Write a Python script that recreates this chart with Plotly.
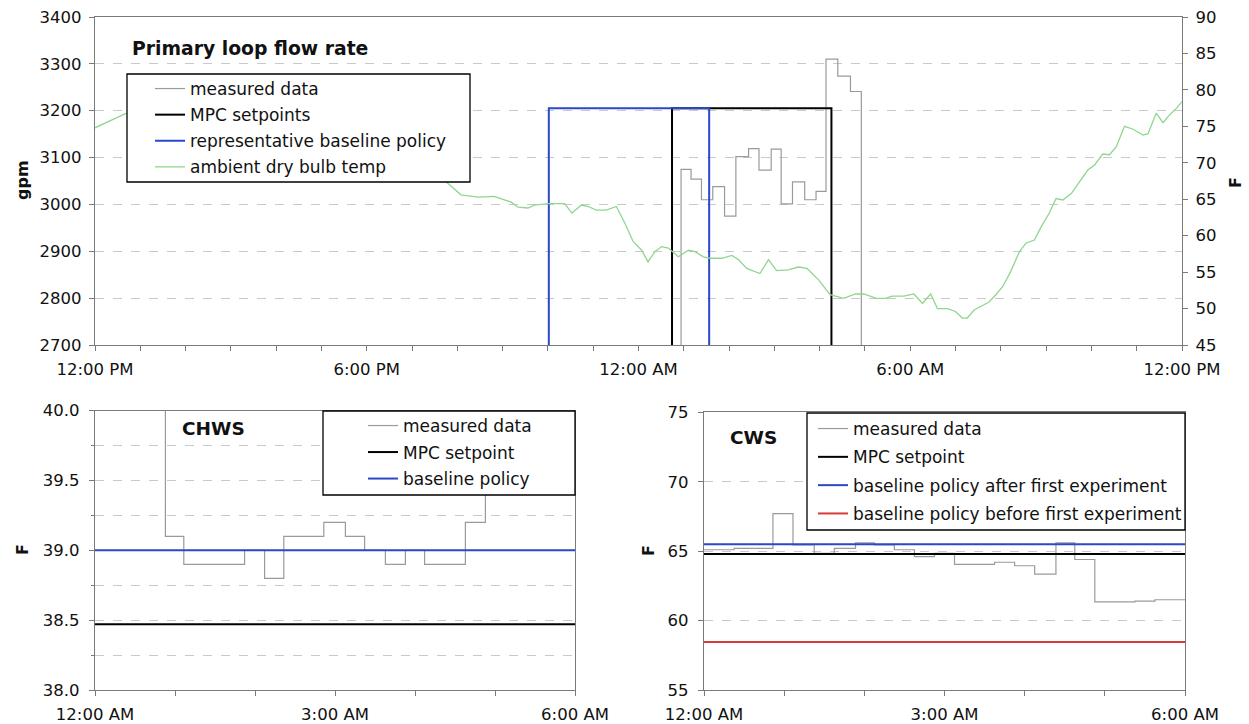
import plotly.graph_objects as go

W, H = 1249, 724

# ---------------- data ----------------
# Top chart: hours since 12:00 PM
top_tick_labels = ["12:00 PM", "6:00 PM", "12:00 AM", "6:00 AM", "12:00 PM"]

flow_hours = [12.5, 12.94, 13.16, 13.39, 13.64, 13.90, 14.15, 14.43, 14.66, 14.93,
              15.15, 15.40, 15.67, 15.92, 16.14, 16.40, 16.68, 16.92, 17.5]
flow_gpm = [0, 3075, 3054, 3010, 3038, 2975, 3102, 3119, 3073, 3118,
            3001, 3048, 3010, 3028, 3310, 3274, 3241, 0, 0]

mpc_hours = [12.0, 12.74, 16.26, 17.0]
mpc_gpm = [0, 3205, 0, 0]

base_hours = [9.5, 10.02, 13.56, 14.0]
base_gpm = [0, 3205, 0, 0]

temp_hours = [0.00, 0.66, 1.5, 2.5, 3.5, 4.5, 5.5, 6.5, 7.3, 7.79, 8.08, 8.46, 8.81,
              9.19, 9.34, 9.56, 9.70, 10.0, 10.37, 10.53, 10.74, 10.89, 11.07, 11.29,
              11.51, 11.70, 11.88, 12.07, 12.21, 12.36, 12.51, 12.66, 12.88, 13.10,
              13.25, 13.43, 13.58, 13.84, 14.06, 14.21, 14.39, 14.68, 14.87, 15.05,
              15.31, 15.53, 15.72, 15.98, 16.23, 16.53, 16.79, 16.97, 17.26, 17.45,
              17.60, 17.86, 18.08, 18.27, 18.45, 18.60, 18.82, 19.00, 19.15, 19.26,
              19.41, 19.60, 19.74, 19.89, 20.04, 20.22, 20.41, 20.56, 20.74, 20.89,
              21.07, 21.22, 21.37, 21.56, 21.74, 21.92, 22.07, 22.25, 22.40, 22.55,
              22.73, 22.92, 23.14, 23.25, 23.43, 23.58, 23.73, 23.88, 24.0]
temp_F = [74.8, 76.7, 77.6, 78.2, 77.8, 76.4, 74.5, 72.0, 69.5, 67.2, 65.6, 65.3, 65.4,
          64.6, 63.9, 63.8, 64.2, 64.4, 64.4, 63.1, 64.2, 64.0, 63.5, 63.5,
          64.0, 61.7, 59.2, 58.0, 56.4, 57.8, 58.5, 58.3, 57.1, 58.0,
          57.8, 57.1, 56.9, 56.9, 57.3, 56.7, 55.5, 54.8, 56.7, 55.2,
          55.3, 55.7, 55.5, 53.9, 51.9, 51.4, 52.0, 52.0, 51.4, 51.4,
          51.7, 51.7, 52.0, 50.7, 52.0, 50.0, 50.0, 49.6, 48.7, 48.7,
          49.8, 50.5, 50.9, 51.9, 53.0, 55.1, 57.8, 59.0, 59.4, 61.2,
          63.1, 65.1, 64.9, 65.8, 67.4, 69.0, 69.7, 71.2, 71.1, 72.2,
          75.0, 74.6, 73.8, 74.0, 76.8, 75.5, 76.6, 77.5, 78.4]

# Bottom charts: hours since 12:00 AM
bottom_tick_labels = ["12:00 AM", "", "", "3:00 AM", "", "", "6:00 AM"]

chws_hours = [0, 0.88, 1.11, 1.87, 2.12, 2.36, 2.86, 3.13, 3.37, 3.63, 3.88, 4.12, 4.63, 4.88, 6.0]
chws_meas = [41, 39.1, 38.9, 39.0, 38.8, 39.1, 39.2, 39.1, 39.0, 38.9, 39.0, 38.9, 39.2, 41, 41]
chws_mpc = 38.47
chws_base = 39.0

cws_hours = [0, 0.375, 0.86, 1.11, 1.375, 1.625, 1.89, 2.125, 2.375, 2.625, 2.875, 3.125,
             3.625, 3.875, 4.125, 4.39, 4.625, 4.875, 5.375, 5.625, 6.0]
cws_meas = [65.1, 65.2, 67.7, 65.45, 64.85, 65.2, 65.6, 65.45, 65.1, 64.6, 64.85, 64.05,
            64.2, 63.95, 63.35, 65.6, 64.4, 61.35, 61.4, 61.5, 61.5]
cws_mpc = 64.8
cws_base_after = 65.5
cws_base_before = 58.45

# ---------------- style ----------------
FONT = "DejaVu Sans"
AX = "#7a7a7a"
GRID = "#c9c9c9"
GRAY = "#9a9a9a"
BLUE = "#2a48c8"
GREEN = "#8fd68f"
RED = "#d83a3a"


def px_x(p):
    return p / W


def px_y(p):
    return 1 - p / H


fig = go.Figure()

# ---- top chart traces (legend order) ----
fig.add_trace(go.Scatter(x=flow_hours, y=flow_gpm, mode="lines", name="measured data",
                         line=dict(color=GRAY, width=1.2, shape="hv"), xaxis="x", yaxis="y",
                         legend="legend", legendgroup="t1"))
fig.add_trace(go.Scatter(x=mpc_hours, y=mpc_gpm, mode="lines", name="MPC setpoints",
                         line=dict(color="black", width=2, shape="hv"), xaxis="x", yaxis="y",
                         legend="legend", legendgroup="t2"))
fig.add_trace(go.Scatter(x=base_hours, y=base_gpm, mode="lines",
                         name="representative baseline policy",
                         line=dict(color=BLUE, width=2, shape="hv"), xaxis="x", yaxis="y",
                         legend="legend", legendgroup="t3"))
fig.add_trace(go.Scatter(x=temp_hours, y=temp_F, mode="lines", name="ambient dry bulb temp",
                         line=dict(color=GREEN, width=1.3), xaxis="x", yaxis="y2",
                         legend="legend", legendgroup="t4"))

# ---- CHWS ----
fig.add_trace(go.Scatter(x=chws_hours, y=chws_meas, mode="lines", name="measured data",
                         line=dict(color=GRAY, width=1.2, shape="hv"), xaxis="x2", yaxis="y3",
                         legend="legend2", legendgroup="a1"))
fig.add_trace(go.Scatter(x=[0, 6], y=[chws_mpc, chws_mpc], mode="lines", name="MPC setpoint",
                         line=dict(color="black", width=2), xaxis="x2", yaxis="y3",
                         legend="legend2", legendgroup="a2"))
fig.add_trace(go.Scatter(x=[0, 6], y=[chws_base, chws_base], mode="lines", name="baseline policy",
                         line=dict(color=BLUE, width=2), xaxis="x2", yaxis="y3",
                         legend="legend2", legendgroup="a3"))

# ---- CWS ----
fig.add_trace(go.Scatter(x=cws_hours, y=cws_meas, mode="lines", name="measured data",
                         line=dict(color=GRAY, width=1.2, shape="hv"), xaxis="x3", yaxis="y4",
                         legend="legend3", legendgroup="b1"))
fig.add_trace(go.Scatter(x=[0, 6], y=[cws_mpc, cws_mpc], mode="lines", name="MPC setpoint",
                         line=dict(color="black", width=2), xaxis="x3", yaxis="y4",
                         legend="legend3", legendgroup="b2"))
fig.add_trace(go.Scatter(x=[0, 6], y=[cws_base_after, cws_base_after], mode="lines",
                         name="baseline policy after first experiment",
                         line=dict(color=BLUE, width=2), xaxis="x3", yaxis="y4",
                         legend="legend3", legendgroup="b3"))
fig.add_trace(go.Scatter(x=[0, 6], y=[cws_base_before, cws_base_before], mode="lines",
                         name="baseline policy before first experiment",
                         line=dict(color=RED, width=2), xaxis="x3", yaxis="y4",
                         legend="legend3", legendgroup="b4"))

common_axis = dict(showline=True, linecolor=AX, linewidth=1.4, ticks="outside", ticklen=5,
                   tickcolor=AX, tickwidth=1.2, zeroline=False, color="#111",
                   automargin=False)
grid = dict(showgrid=True, gridcolor=GRID, griddash="dash", gridwidth=1)

tick_font = dict(family=FONT, size=16.5, color="#111")
leg_font = dict(family=FONT, size=17, color="#111")

fig.update_layout(
    template="none",
    width=W, height=H, margin=dict(l=0, r=0, t=0, b=0, pad=0, autoexpand=False),
    paper_bgcolor="white", plot_bgcolor="white",
    font=dict(family=FONT, color="#111"),
    xaxis=dict(domain=[px_x(95), px_x(1182)], range=[0, 24], anchor="y",
               tickvals=list(range(0, 25)),
               ticktext=[top_tick_labels[i // 6] if i % 6 == 0 else "" for i in range(25)],
               tickfont=tick_font, mirror=True, showgrid=False, ticklabelstandoff=4,
               **common_axis),
    yaxis=dict(domain=[px_y(345), px_y(17)], range=[2700, 3400], dtick=100, anchor="x",
               tickfont=tick_font, ticklabelstandoff=4, **grid, **common_axis),
    yaxis2=dict(overlaying="y", side="right", range=[45, 90], dtick=5, anchor="x",
                tickfont=tick_font, showgrid=False, ticklabelstandoff=4, **common_axis),
    xaxis2=dict(domain=[px_x(95), px_x(575)], range=[0, 6], anchor="y3",
                tickvals=list(range(0, 7)), ticktext=bottom_tick_labels,
                tickfont=tick_font, mirror=True, showgrid=False, ticklabelstandoff=4,
                **common_axis),
    yaxis3=dict(domain=[px_y(690), px_y(410.7)], range=[38, 40], dtick=0.5, tickformat=".1f",
                anchor="x2", tickfont=tick_font, mirror=True, ticklabelstandoff=6,
                minor=dict(dtick=0.25, showgrid=True, gridcolor=GRID, griddash="dash",
                           ticks="outside", ticklen=3, tickcolor=AX),
                **grid, **common_axis),
    xaxis3=dict(domain=[px_x(704), px_x(1185)], range=[0, 6], anchor="y4",
                tickvals=list(range(0, 7)), ticktext=bottom_tick_labels,
                tickfont=tick_font, mirror=True, showgrid=False, ticklabelstandoff=4,
                **common_axis),
    yaxis4=dict(domain=[px_y(690), px_y(412.3)], range=[55, 75], dtick=5, anchor="x3",
                tickfont=tick_font, mirror=True, ticklabelstandoff=6, **grid, **common_axis),
    legend=dict(x=px_x(150), y=px_y(71), xanchor="left", yanchor="top",
                bgcolor="rgba(0,0,0,0)", borderwidth=0, traceorder="grouped",
                font=leg_font, tracegroupgap=1),
    legend2=dict(x=px_x(363), y=px_y(408), xanchor="left", yanchor="top",
                 bgcolor="rgba(0,0,0,0)", borderwidth=0, traceorder="grouped",
                 font=leg_font, tracegroupgap=1.4),
    legend3=dict(x=px_x(813), y=px_y(411), xanchor="left", yanchor="top",
                 bgcolor="rgba(0,0,0,0)", borderwidth=0, traceorder="grouped",
                 font=leg_font, tracegroupgap=3.2),
    showlegend=True,
)

# legend frames (white boxes with black border)
for (x0, y0, x1, y1) in [(127, 74, 470, 182), (323, 411, 575, 495), (807, 413, 1185, 530)]:
    fig.add_shape(type="rect", xref="paper", yref="paper",
                  x0=px_x(x0), x1=px_x(x1), y0=px_y(y1), y1=px_y(y0),
                  fillcolor="white", line=dict(color="black", width=1.3), layer="above")

# in-chart titles and axis titles
ann = [
    dict(text="<b>Primary loop flow rate</b>", x=px_x(130), y=px_y(48), xanchor="left",
         yanchor="middle", font=dict(family=FONT, size=18.8, color="#111")),
    dict(text="<b>CHWS</b>", x=px_x(180), y=px_y(428), xanchor="left", yanchor="middle",
         font=dict(family=FONT, size=18.5, color="#111")),
    dict(text="<b>CWS</b>", x=px_x(728), y=px_y(437), xanchor="left", yanchor="middle",
         font=dict(family=FONT, size=18.5, color="#111")),
    dict(text="<b>gpm</b>", x=px_x(22), y=px_y(180), xanchor="center", yanchor="middle",
         textangle=-90, font=dict(family=FONT, size=16, color="#111")),
    dict(text="<b>F</b>", x=px_x(1236), y=px_y(183), xanchor="center", yanchor="middle",
         textangle=-90, font=dict(family=FONT, size=16, color="#111")),
    dict(text="<b>F</b>", x=px_x(22), y=px_y(550), xanchor="center", yanchor="middle",
         textangle=-90, font=dict(family=FONT, size=16, color="#111")),
    dict(text="<b>F</b>", x=px_x(648), y=px_y(550), xanchor="center", yanchor="middle",
         textangle=-90, font=dict(family=FONT, size=16, color="#111")),
]
for a in ann:
    fig.add_annotation(xref="paper", yref="paper", showarrow=False, **a)

fig.write_html("out.html", post_script="document.body.style.margin='0px';",
               config={"displayModeBar": False})
